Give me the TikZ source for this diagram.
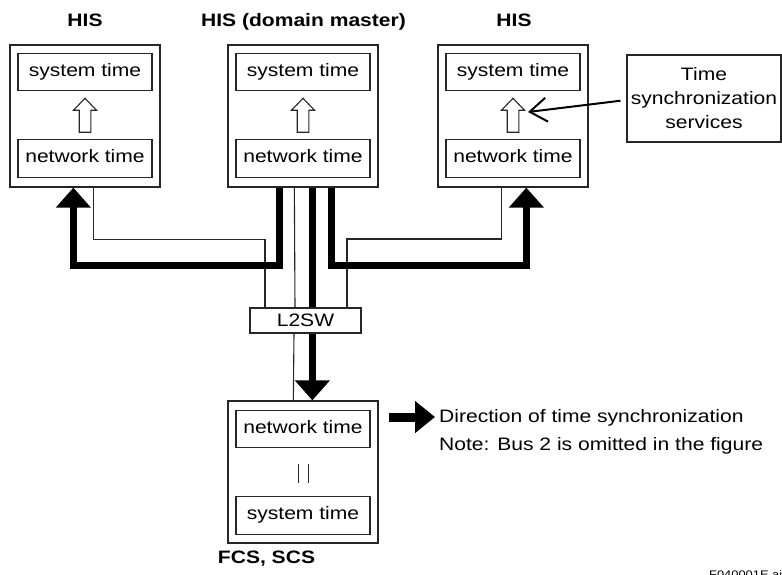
\documentclass[tikz,border=0pt]{standalone}
\usepackage{fontspec}
\setmainfont{Liberation Sans}[FakeStretch=1.17]
\usetikzlibrary{arrows.meta,calc}
\begin{document}
\begin{tikzpicture}[x=1pt,y=-1pt,
  txt/.style={font=\fontsize{18}{24}\selectfont, text height=12.9pt, text depth=4pt, inner sep=0pt},
  ttl/.style={txt, font=\fontsize{18}{24}\selectfont\bfseries},
  station/.style={draw=black!85, line width=1.3pt, minimum width=150pt, minimum height=142pt, inner sep=0pt},
  clock/.style={txt, draw=black!85, line width=1.2pt, minimum width=134pt, minimum height=37.5pt},
  thickbus/.style={line width=6.5pt, line join=miter},
  thinbus/.style={line width=1.1pt, draw=black!85},
  bigtip/.style={-{Triangle[length=20pt,width=34pt]}},
  hollowup/.pic={\draw[line width=1.1pt, draw=black!85, fill=white] (0,-17) -- (11.5,-5) -- (5.8,-5) -- (5.8,17) -- (-5.8,17) -- (-5.8,-5) -- (-11.5,-5) -- cycle;}
]
\useasboundingbox (0,0) rectangle (782,574);

% titles
\node[ttl] (t1) at (85,22) {HIS};
\node[ttl] (t2) at (303.5,22) {HIS (domain master)};
\node[ttl] (t3) at (514,22) {HIS};

% stations
\node[station] (h1) at (85,116) {};
\node[station] (h2) at (303,116) {};
\node[station] (h3) at (513,116) {};
\node[clock] (s1) at (85,72) {system time};
\node[clock] (n1) at (85,158.5) {network time};
\node[clock] (s2) at (303,72) {system time};
\node[clock] (n2) at (303,158.5) {network time};
\node[clock] (s3) at (513,72) {system time};
\node[clock] (n3) at (513,158.5) {network time};
\pic at ($(s1.south)!0.5!(n1.north)$) {hollowup};
\pic at ($(s2.south)!0.5!(n2.north)$) {hollowup};
\pic at ($(s3.south)!0.5!(n3.north)$) {hollowup};

% time synchronization services
\node[draw=black!85, line width=1.2pt, minimum width=154pt, minimum height=87pt, align=center,
      font=\fontsize{18}{24}\selectfont, inner sep=0pt] (tss) at (704,98.5) {Time\\synchronization\\services};
\coordinate (ptip) at (528,112);
\draw[line width=2pt, -{Straight Barb[length=17pt,width=24pt]}, shorten <=6pt] ([yshift=-1.5pt]tss.west) -- (ptip);

% FCS
\node[station] (fcs) at (303,472) {};
\node[clock] (n4) at (303,429) {network time};
\node[clock] (s4) at (303,515.5) {system time};
\draw[line width=1pt, draw=black!85] (298,464) -- (298,483) (308,464) -- (308,483);
\node[ttl] (t4) at (266.5,559) {FCS, SCS};

% L2SW position (drawn later on top)
\coordinate (swc) at (305.5,320.5);

% thin bus lines
\draw[thinbus] ([xshift=84pt]h1.south west) -- ++(0,52) -| ([xshift=15pt]$(swc)+(-55.5,-12.5)$);
\draw[thinbus] ([xshift=67pt]h2.south west) -- ($(swc)+(-10.5,-12.5)$);
\draw[thinbus] ($(swc)+(41.5,-12.5)$) -- ++(0,-69) -| ([xshift=64pt]h3.south west);
\draw[thinbus] ($(swc)+(-11.5,12.5)$) -- ([xshift=66pt]fcs.north west);

% thick bus arrows
\draw[thickbus, bigtip] ([xshift=52pt]h2.south west) -- ++(0,78) -| ([xshift=64pt]h1.south west);
\draw[thickbus, bigtip] ([xshift=104pt]h2.south west) -- ++(0,78) -| ([xshift=89pt]h3.south west);
\draw[thickbus, bigtip] ([xshift=85pt]h2.south west) -- ([xshift=85pt]fcs.north west);

% L2SW
\node[txt, text depth=0pt, draw=black!85, line width=1.2pt, fill=white, minimum width=111pt, minimum height=25pt] (sw) at (swc) {L2SW};

% legend
\coordinate (la) at (389,417);
\coordinate (lb) at (435,417);
\draw[line width=9pt, -{Triangle[length=20pt,width=31pt]}] (la) -- (lb);
\node[txt, anchor=west] (leg1) at (439,418) {Direction of time synchronization};
\node[txt, anchor=west] (leg2) at (439,446) {Note: Bus 2 is omitted in the figure};

\node[anchor=base west, inner sep=0pt, font=\fontsize{11}{12}\selectfont] (fid) at (709,578) {F040001E.ai};
\end{tikzpicture}
\end{document}
